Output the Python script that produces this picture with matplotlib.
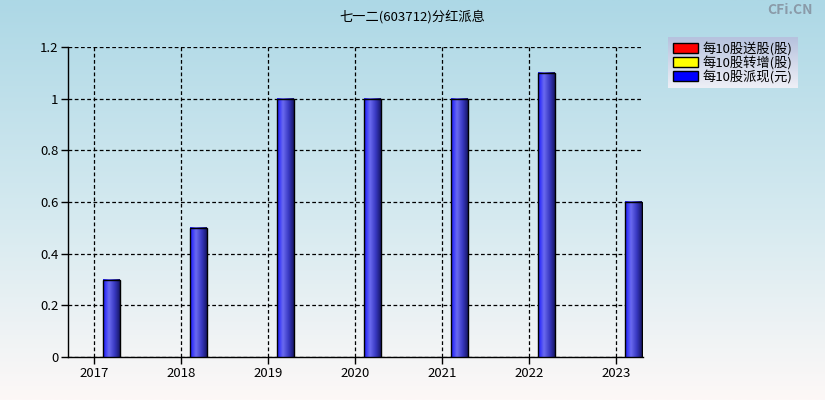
import numpy as np
import matplotlib
matplotlib.use("Agg")
import matplotlib.pyplot as plt
from matplotlib.patches import Patch
from matplotlib.colors import LinearSegmentedColormap

plt.rcParams['font.family'] = ['Noto Sans CJK SC', 'DejaVu Sans']

years = [2017, 2018, 2019, 2020, 2021, 2022, 2023]
cash_per10 = [0.3, 0.5, 1.0, 1.0, 1.0, 1.1, 0.6]
yticks = [0, 0.2, 0.4, 0.6, 0.8, 1.0, 1.2]
ytick_labels = ['0', '0.2', '0.4', '0.6', '0.8', '1', '1.2']
legend_labels = ['每10股送股(股)', '每10股转增(股)', '每10股派现(元)']
legend_colors = ['#ff0000', '#ffff00', '#0000ff']
title = '七一二(603712)分红派息'

W, H = 825, 400
fig = plt.figure(figsize=(8.25, 4.0), dpi=100)

# background gradient
bg = fig.add_axes([0, 0, 1, 1], zorder=-10)
grad = np.linspace(0, 1, 256).reshape(-1, 1)
bg_cmap = LinearSegmentedColormap.from_list('bg', [(0, '#add8e6'), (0.55, '#d6eaf0'), (1, '#fdf8f7')])
bg.imshow(grad, aspect='auto', cmap=bg_cmap, extent=[0, 1, 0, 1], origin='upper')
bg.set_axis_off()

ax = fig.add_axes([68/W, 43/H, (643-68)/W, (357-47)/H])
ax.patch.set_alpha(0)

offset = 0.2
width = 0.195
xs = [y + offset for y in years]
bars = ax.bar(xs, cash_per10, width=width, color='none', edgecolor='black', linewidth=1.0, zorder=4)

bar_cmap = LinearSegmentedColormap.from_list('bar', [(0, '#1818ff'), (0.35, '#6a6af0'), (0.7, '#3838c0'), (1, '#18186a')])
hgrad = np.linspace(0, 1, 64).reshape(1, -1)
for b in bars:
    x0, w, h = b.get_x(), b.get_width(), b.get_height()
    ax.imshow(hgrad, aspect='auto', cmap=bar_cmap, extent=[x0, x0 + w, 0, h], zorder=3, interpolation='bilinear')

ax.set_xlim(2016.7, 2023.31)
ax.set_ylim(0, 1.2)
ax.set_xticks(years)
ax.set_xticklabels([str(y) for y in years])
ax.set_yticks(yticks)
ax.set_yticklabels(ytick_labels)
ax.grid(True, color='black', linestyle=(0, (3, 2)), linewidth=0.9)
ax.set_axisbelow(True)
for s in ['top', 'right']:
    ax.spines[s].set_visible(False)
ax.spines['left'].set_linewidth(1.0)
ax.spines['bottom'].set_linewidth(1.0)
ax.tick_params(axis='both', direction='out', length=5, width=1, colors='black', labelsize=9.5)
ax.tick_params(axis='y', pad=2)
ax.tick_params(axis='x', pad=2)

fig.text(0.5, 1 - 17/H, title, ha='center', va='center', fontsize=9.5)
fig.text(0.985, 1 - 10/H, 'CFi.CN', ha='right', va='center', fontsize=10, color='#8a9aa8', fontweight='bold')

# legend with gradient box
lax = fig.add_axes([668/W, 1 - 88/H, 130/W, 51/H], zorder=5)
lgrad = np.linspace(0, 1, 64).reshape(-1, 1)
lcmap = LinearSegmentedColormap.from_list('lg', ['#b6c2de', '#eeeff6'])
lax.imshow(lgrad, aspect='auto', cmap=lcmap, extent=[0, 1, 0, 1], origin='upper')
lax.set_axis_off()
handles = [Patch(facecolor=c, edgecolor='black', linewidth=1) for c in legend_colors]
leg = lax.legend(handles, legend_labels, loc='center left', bbox_to_anchor=(0.04, 0.5),
                 frameon=False, fontsize=9.5, handlelength=1.9, handleheight=0.8,
                 handletextpad=0.35, labelspacing=0.0, borderpad=0.0, borderaxespad=0)

fig.savefig('out.png', dpi=100)
